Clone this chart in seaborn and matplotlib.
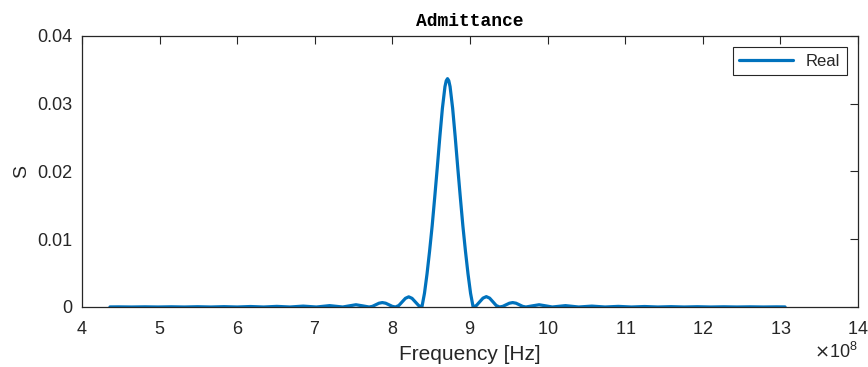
import matplotlib
matplotlib.use("Agg")
import matplotlib.pyplot as plt
import seaborn as sns
import pandas as pd
from matplotlib.ticker import ScalarFormatter

# Frequency in units of 1e8 Hz, real part of admittance in S
freq_e8 = [4.36, 4.47, 4.64, 4.81, 4.98, 5.15, 5.32, 5.49, 5.66, 5.83, 6.00, 6.17,
           6.34, 6.51, 6.68, 6.85, 7.02, 7.19, 7.36, 7.445, 7.53, 7.615, 7.70,
           7.7425, 7.785, 7.8275, 7.87, 7.9125, 7.955, 7.9975, 8.04,
           8.0825, 8.125, 8.1675, 8.21, 8.2525, 8.295, 8.3375, 8.38,
           8.413, 8.446, 8.479, 8.512, 8.545, 8.578, 8.611, 8.644, 8.677, 8.6935, 8.71,
           8.7265, 8.743, 8.776, 8.809, 8.842, 8.875, 8.908, 8.941, 8.974, 9.007, 9.04,
           9.0825, 9.125, 9.1675, 9.21, 9.2525, 9.295, 9.3375, 9.38,
           9.4225, 9.465, 9.5075, 9.55, 9.5925, 9.635, 9.6775, 9.72,
           9.805, 9.89, 9.975, 10.06, 10.23, 10.40, 10.57, 10.74, 10.91, 11.08,
           11.25, 11.42, 11.59, 11.76, 11.93, 12.10, 12.27, 12.44, 12.61, 12.78,
           12.95, 13.06]
real_S = [0.00001, 0.00002, 0.0, 0.000025, 0.0, 0.00003, 0.0, 0.00004, 0.0, 0.00005, 0.0, 0.00007,
          0.0, 0.00009, 0.0, 0.00013, 0.0, 0.0002, 0.0, 0.00017, 0.00033, 0.00017, 0.0,
          0.000095, 0.00033, 0.00056, 0.00065, 0.00056, 0.00033, 0.000095, 0.0,
          0.00022, 0.00075, 0.00128, 0.0015, 0.00128, 0.00075, 0.00022, 0.0,
          0.00202, 0.00489, 0.00826, 0.01196, 0.01618, 0.02056, 0.02511, 0.02932, 0.03252, 0.03339, 0.0337,
          0.03339, 0.03252, 0.02932, 0.02511, 0.02056, 0.01618, 0.01196, 0.00826, 0.00489, 0.00202, 0.0,
          0.00022, 0.00077, 0.00131, 0.00153, 0.00131, 0.00077, 0.00022, 0.0,
          0.000095, 0.00033, 0.00056, 0.00065, 0.00056, 0.00033, 0.000095, 0.0,
          0.00017, 0.00033, 0.00017, 0.0, 0.0002, 0.0, 0.00013, 0.0, 0.00009, 0.0,
          0.00007, 0.0, 0.00005, 0.0, 0.00004, 0.0, 0.00003, 0.0, 0.000025, 0.0,
          0.00002, 0.00001]

x_ticks_e8 = [4, 5, 6, 7, 8, 9, 10, 11, 12, 13, 14]
y_ticks = [0, 0.01, 0.02, 0.03, 0.04]
y_tick_labels = ["0", "0.01", "0.02", "0.03", "0.04"]
series_name = "Real"

sns.set_theme(style="white")
plt.rcParams["font.family"] = ["Liberation Sans", "DejaVu Sans"]
axis_col = "#262626"
plt.rcParams.update({
    "axes.edgecolor": axis_col,
    "axes.linewidth": 0.9,
    "xtick.color": axis_col,
    "ytick.color": axis_col,
    "axes.labelcolor": axis_col,
})

df = pd.DataFrame({"Frequency": [f * 1e8 for f in freq_e8], "Value": real_S,
                   "Series": series_name})

fig = plt.figure(figsize=(8.68, 3.67), dpi=100)
ax = fig.add_axes([0.0945, 0.1635, 0.894, 0.7385])
sns.lineplot(data=df, x="Frequency", y="Value", hue="Series", palette=["#0072BD"],
             linewidth=2.3, ax=ax, sort=False)

ax.set_xlim(4e8, 14e8)
ax.set_ylim(0, 0.04)
ax.set_xticks([t * 1e8 for t in x_ticks_e8])
fmt = ScalarFormatter(useMathText=True)
fmt.set_powerlimits((8, 8))
ax.xaxis.set_major_formatter(fmt)
ax.set_yticks(y_ticks)
ax.set_yticklabels(y_tick_labels)
ax.tick_params(axis="both", which="major", direction="in", length=5.5, width=0.8,
               labelsize=13, top=True, right=True)
ax.tick_params(axis="x", pad=10)
ax.tick_params(axis="y", pad=7)
ax.xaxis.get_offset_text().set_fontsize(13)
for s in ax.spines.values():
    s.set_visible(True)
    s.set_color(axis_col)

ax.set_xlabel("Frequency [Hz]", fontsize=15, labelpad=5)
ax.set_ylabel("S", fontsize=14, labelpad=5)
ax.set_title("Admittance", fontsize=13, fontweight="bold",
             family=["Liberation Mono", "DejaVu Sans Mono"], color="black", pad=7)

leg = ax.legend(loc="upper right", fontsize=12, frameon=True, fancybox=False,
                edgecolor=axis_col, framealpha=1, handlelength=3.2, borderpad=0.4,
                borderaxespad=0, bbox_to_anchor=(0.986, 0.959))
leg.get_frame().set_linewidth(0.8)

fig.savefig("out.png", dpi=100)
